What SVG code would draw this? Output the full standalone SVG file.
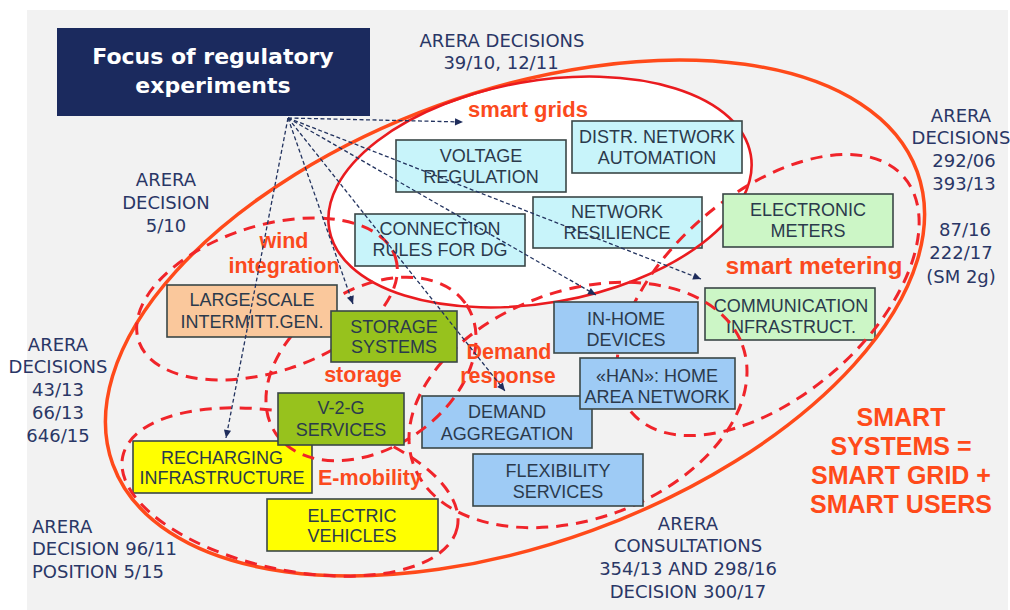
<svg xmlns="http://www.w3.org/2000/svg" width="1010" height="610" viewBox="0 0 1010 610">
  <style>
    .deci { font-family: "DejaVu Sans", Verdana, sans-serif; font-size: 18px; fill: #2a3766; text-anchor: middle; }
    .deci-l { font-family: "DejaVu Sans", Verdana, sans-serif; font-size: 18px; fill: #2a3766; }
    .lbl { font-family: "Liberation Sans", Arial, sans-serif; font-weight: bold; font-size: 21.5px; fill: #fb4a1d; text-anchor: middle; }
    .big { font-family: "Liberation Sans", Arial, sans-serif; font-weight: bold; font-size: 25px; fill: #ff4a1a; text-anchor: middle; }
    .bt { font-family: "Liberation Sans", Arial, sans-serif; font-size: 18px; fill: #2b3a4c; text-anchor: middle; }
    .box { stroke: #3a4646; stroke-width: 1.6; }
    .cyan { fill: #c8f4fa; }
    .lgreen { fill: #ccf6c6; }
    .peach { fill: #fac89c; }
    .olive { fill: #97c21d; }
    .blue { fill: #9ecbf5; }
    .yellow { fill: #ffff00; }
    .dash { fill: none; stroke: #f0242a; stroke-width: 3; stroke-dasharray: 12 8; }
    .conn { fill: none; stroke: #23335f; stroke-width: 1.3; stroke-dasharray: 4 2.5; marker-end: url(#ah); }
  </style>
  <defs>
    <marker id="ah" viewBox="0 0 10 10" refX="10" refY="5" markerWidth="9" markerHeight="8" markerUnits="userSpaceOnUse" orient="auto">
      <path d="M0,0.5 L10,5 L0,9.5 z" fill="#1f2d5c"/>
    </marker>
  </defs>

  <!-- slide background -->
  <rect x="0" y="0" width="1010" height="610" fill="#ffffff"/>
  <rect x="27" y="10" width="981" height="600" fill="#f2f2f2"/>

  <!-- smart grids area (white inside) -->
  <ellipse cx="540" cy="192" rx="214" ry="111" transform="rotate(-10 540 192)" fill="#ffffff"/>

  <!-- boxes crossed by the dashed areas -->
  <g id="connection-rules">
    <rect class="box cyan" x="355" y="214" width="170" height="52"/>
    <text class="bt" x="440" y="235">CONNECTION</text>
    <text class="bt" x="440" y="256">RULES FOR DG</text>
  </g>
  <g id="network-resilience">
    <rect class="box cyan" x="533" y="197" width="169" height="51"/>
    <text class="bt" x="617" y="218">NETWORK</text>
    <text class="bt" x="617" y="239">RESILIENCE</text>
  </g>
  <g id="communication-infrastructure">
    <rect class="box lgreen" x="705" y="288" width="170" height="52"/>
    <text class="bt" x="791" y="312">COMMUNICATION</text>
    <text class="bt" x="791" y="333">INFRASTRUCT.</text>
  </g>
  <g id="demand-aggregation">
    <rect class="box blue" x="422" y="396" width="170" height="52"/>
    <text class="bt" x="507" y="418">DEMAND</text>
    <text class="bt" x="507" y="440">AGGREGATION</text>
  </g>
  <g id="recharging-infrastructure">
    <rect class="box yellow" x="133" y="441" width="179" height="52"/>
    <text class="bt" x="222" y="464">RECHARGING</text>
    <text class="bt" x="222" y="484">INFRASTRUCTURE</text>
  </g>

  <!-- area outlines -->
  <g id="areas">
    <ellipse cx="515" cy="318" rx="428" ry="226" transform="rotate(-20 515 318)" fill="none" stroke="#ff4a1a" stroke-width="3.5"/>
    <ellipse cx="540" cy="192" rx="214" ry="111" transform="rotate(-10 540 192)" fill="none" stroke="#ea1b1f" stroke-width="2.6"/>
    <ellipse class="dash" cx="267" cy="299" rx="135" ry="73" transform="rotate(-18 267 299)"/>
    <ellipse class="dash" cx="371" cy="369" rx="115" ry="79" transform="rotate(-34 371 369)"/>
    <ellipse class="dash" cx="290" cy="492" rx="171" ry="78" transform="rotate(12 290 492)"/>
    <ellipse class="dash" cx="578" cy="405" rx="175" ry="114" transform="rotate(-20 578 405)"/>
    <ellipse class="dash" cx="768" cy="295" rx="180" ry="101" transform="rotate(-41 768 295)"/>
  </g>

  <!-- remaining boxes -->
  <g id="voltage-regulation">
    <rect class="box cyan" x="396" y="140" width="170" height="52"/>
    <text class="bt" x="481" y="162">VOLTAGE</text>
    <text class="bt" x="481" y="183">REGULATION</text>
  </g>
  <g id="distr-network-automation">
    <rect class="box cyan" x="572" y="121" width="170" height="52"/>
    <text class="bt" x="657" y="143">DISTR. NETWORK</text>
    <text class="bt" x="657" y="164">AUTOMATION</text>
  </g>
  <g id="electronic-meters">
    <rect class="box lgreen" x="723" y="194" width="170" height="53"/>
    <text class="bt" x="808" y="216">ELECTRONIC</text>
    <text class="bt" x="808" y="237">METERS</text>
  </g>
  <g id="large-scale-gen">
    <rect class="box peach" x="167" y="285" width="170" height="52"/>
    <text class="bt" x="252" y="306">LARGE SCALE</text>
    <text class="bt" x="252" y="328">INTERMITT.GEN.</text>
  </g>
  <g id="storage-systems">
    <rect class="box olive" x="331" y="311" width="126" height="51"/>
    <text class="bt" x="394" y="333">STORAGE</text>
    <text class="bt" x="394" y="353">SYSTEMS</text>
  </g>
  <g id="v2g-services">
    <rect class="box olive" x="278" y="393" width="126" height="52"/>
    <text class="bt" x="341" y="414">V-2-G</text>
    <text class="bt" x="341" y="436">SERVICES</text>
  </g>
  <g id="in-home-devices">
    <rect class="box blue" x="554" y="302" width="144" height="51"/>
    <text class="bt" x="626" y="325">IN-HOME</text>
    <text class="bt" x="626" y="346">DEVICES</text>
  </g>
  <g id="home-area-network">
    <rect class="box blue" x="580" y="358" width="155" height="51"/>
    <text class="bt" x="657" y="382">«HAN»: HOME</text>
    <text class="bt" x="657" y="403">AREA NETWORK</text>
  </g>
  <g id="flexibility-services">
    <rect class="box blue" x="473" y="454" width="170" height="52"/>
    <text class="bt" x="558" y="477">FLEXIBILITY</text>
    <text class="bt" x="558" y="498">SERVICES</text>
  </g>
  <g id="electric-vehicles">
    <rect class="box yellow" x="267" y="499" width="171" height="52"/>
    <text class="bt" x="352" y="522">ELECTRIC</text>
    <text class="bt" x="352" y="542">VEHICLES</text>
  </g>

  <!-- area labels -->
  <g id="area-labels">
    <text class="lbl" x="528" y="117" style="font-size:22px">smart grids</text>
    <text class="lbl" x="284" y="248">wind</text>
    <text class="lbl" x="284" y="273">integration</text>
    <text class="lbl" x="363" y="382">storage</text>
    <text class="lbl" x="509" y="359">Demand</text>
    <text class="lbl" x="508" y="383">response</text>
    <text class="lbl" x="370" y="485">E-mobility</text>
    <text class="lbl" x="814" y="274" style="font-size:24.5px">smart metering</text>
  </g>

  <!-- title -->
  <g id="title">
    <rect x="57" y="28" width="313" height="88" fill="#1b2a5e"/>
    <text x="213" y="64" text-anchor="middle" font-family="'DejaVu Sans', Verdana, sans-serif" font-weight="bold" font-size="22" fill="#ffffff">Focus of regulatory</text>
    <text x="213" y="93" text-anchor="middle" font-family="'DejaVu Sans', Verdana, sans-serif" font-weight="bold" font-size="22" fill="#ffffff">experiments</text>
  </g>

  <!-- regulatory references -->
  <g id="decisions">
    <text class="deci" x="502" y="47">ARERA DECISIONS</text>
    <text class="deci" x="501" y="69">39/10, 12/11</text>

    <text class="deci" x="166" y="186">ARERA</text>
    <text class="deci" x="166" y="209">DECISION</text>
    <text class="deci" x="166" y="232">5/10</text>

    <text class="deci" x="961" y="122">ARERA</text>
    <text class="deci" x="961" y="144">DECISIONS</text>
    <text class="deci" x="964" y="167">292/06</text>
    <text class="deci" x="964" y="190">393/13</text>
    <text class="deci" x="965" y="236">87/16</text>
    <text class="deci" x="961" y="259">222/17</text>
    <text class="deci" x="961" y="283">(SM 2g)</text>

    <text class="deci" x="58" y="351">ARERA</text>
    <text class="deci" x="58" y="373">DECISIONS</text>
    <text class="deci" x="58" y="396">43/13</text>
    <text class="deci" x="58" y="419">66/13</text>
    <text class="deci" x="58" y="442">646/15</text>

    <text class="deci-l" x="32" y="533">ARERA</text>
    <text class="deci-l" x="32" y="555">DECISION 96/11</text>
    <text class="deci-l" x="32" y="578">POSITION 5/15</text>

    <text class="deci" x="688" y="530">ARERA</text>
    <text class="deci" x="688" y="552">CONSULTATIONS</text>
    <text class="deci" x="688" y="575">354/13 AND 298/16</text>
    <text class="deci" x="688" y="598">DECISION 300/17</text>
  </g>

  <g id="smart-systems">
    <text class="big" x="901" y="426">SMART</text>
    <text class="big" x="901" y="455">SYSTEMS =</text>
    <text class="big" x="901" y="484">SMART GRID +</text>
    <text class="big" x="901" y="513">SMART USERS</text>
  </g>

  <!-- dashed pointers from the title box -->
  <g id="connectors">
    <line class="conn" x1="288" y1="118" x2="463" y2="122"/>
    <line class="conn" x1="288" y1="118" x2="353" y2="304"/>
    <line class="conn" x1="288" y1="118" x2="226" y2="438"/>
    <line class="conn" x1="288" y1="118" x2="505" y2="391"/>
    <line class="conn" x1="288" y1="118" x2="596" y2="295"/>
    <line class="conn" x1="288" y1="118" x2="701" y2="279"/>
  </g>
</svg>
